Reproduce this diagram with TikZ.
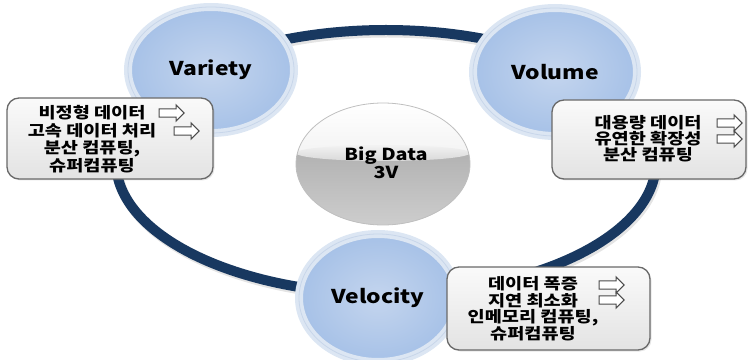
\documentclass[tikz,border=0pt]{standalone}
\usepackage{fontspec}
\newfontfamily\kr{Noto Sans CJK KR}[FakeStretch=1.2]
\usetikzlibrary{shapes.geometric,shapes.arrows,shadows}
\definecolor{ringcol}{RGB}{24,56,96}
\definecolor{rimcol}{RGB}{220,230,243}
\definecolor{rimedge}{RGB}{200,214,234}
\definecolor{bluein}{RGB}{196,213,238}
\definecolor{blueout}{RGB}{166,193,231}
\definecolor{boxedge}{RGB}{105,105,105}
\definecolor{arrowcol}{RGB}{75,75,75}
\tikzset{
  vball/.style={ellipse, draw=rimcol, line width=8pt, shading=radial, inner color=bluein, outer color=blueout,
    font=\kr\bfseries\fontsize{19}{22}\selectfont, text=black,
    postaction={draw=rimedge, line width=0.8pt, ellipse}},
  infobox/.style={draw=boxedge, line width=1.3pt, rounded corners=12pt, top color=gray!4, bottom color=gray!22,
    drop shadow={opacity=0.2, shadow xshift=1.5pt, shadow yshift=-1.5pt}},
  boxtext/.style={align=center, text=black, font=\kr\bfseries\fontsize{15.5}{17.5}\selectfont},
  harrow/.style={single arrow, draw=arrowcol, fill=white, line width=1.1pt, minimum height=25pt,
    inner sep=3.6pt, single arrow head extend=3.8pt, single arrow head indent=0pt}
}
\begin{document}
\begin{tikzpicture}[x=1pt,y=1pt]
\useasboundingbox (0,0) rectangle (749,359);
% ring
\node[ellipse, draw=gray!35, line width=10pt, minimum width=540pt, minimum height=264pt, opacity=0.6] (ringshadow) at (387.5,194.5) {};
\node[ellipse, draw=ringcol, line width=10pt, minimum width=540pt, minimum height=264pt] (ring) at (386,197) {};
% Big Data sphere
\node[ellipse, minimum width=174pt, minimum height=122pt, inner sep=0pt,
      top color=white, bottom color=gray!22] (sphere) at (383,195) {};
\begin{scope}
  \clip (383,195) ellipse [x radius=87, y radius=61];
  \shade[top color=gray!60, bottom color=gray!38] (290,130) rectangle (480,206);
  \shade[top color=gray!10, bottom color=gray!30] (383,206) ellipse [x radius=87, y radius=8];
\end{scope}
\draw[gray!50, line width=0.8pt] (383,195) ellipse [x radius=87, y radius=61];
\node[boxtext, font=\kr\bfseries\fontsize{16.5}{18.5}\selectfont] (bigtext) at (386,196) {Big Data\\3V};
% V circles
\node[vball, minimum width=166pt, minimum height=126pt] (variety) at (211,289) {Variety};
\node[vball, minimum width=164pt, minimum height=128pt] (volume) at (555,287) {Volume};
\node[vball, minimum width=158pt, minimum height=128pt] (velocity) at (378,61) {Velocity};
% boxes
\node[infobox, minimum width=206pt, minimum height=81pt] (lbox) at (110,220.5) {};
\node[infobox, minimum width=194pt, minimum height=79pt] (rbox) at (649,219.5) {};
\node[infobox, minimum width=203pt, minimum height=83pt] (bbox) at (548.5,50.5) {};
% texts
\node[boxtext] (ltext) at (92,220) {비정형 데이터\\고속 데이터 처리\\분산 컴퓨팅,\\슈퍼컴퓨팅};
\node[boxtext, font=\kr\bfseries\fontsize{15.5}{16}\selectfont] (rtext) at (648,220) {대용량 데이터\\유연한 확장성\\분산 컴퓨팅};
\node[boxtext, font=\kr\bfseries\fontsize{15.5}{16.3}\selectfont] (btext) at (533,50) {데이터 폭증\\지연 최소화\\인메모리 컴퓨팅,\\슈퍼컴퓨팅};
% arrows
\node[harrow] (la1) at (169.5,246) {};
\node[harrow] (la2) at (184.5,228) {};
\node[harrow] (ra1) at (727.5,236) {};
\node[harrow] (ra2) at (727.5,220) {};
\node[harrow] (ba1) at (609.5,74) {};
\node[harrow] (ba2) at (609.5,59) {};
\end{tikzpicture}
\end{document}
